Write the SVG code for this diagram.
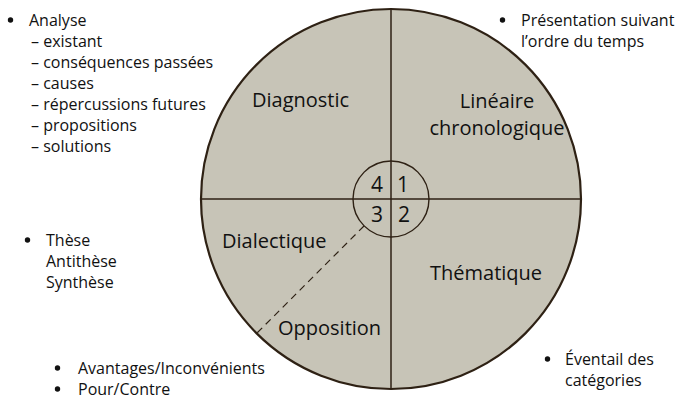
<svg xmlns="http://www.w3.org/2000/svg" width="683" height="400" viewBox="0 0 683 400">
<style>
text{font-family:"Open Sans","Noto Sans","Liberation Sans",sans-serif;fill:#111;font-weight:500}
.lbl{font-size:20px}
.num{font-size:21px;text-anchor:middle}
.note{font-size:16px}
.ln{stroke:#2e2114;fill:none}
.bul{fill:#111}
</style>
<rect width="683" height="400" fill="#fff"/>
<g id="wheel">
<circle cx="391" cy="199" r="190" fill="#c7c4b7" stroke="#2e2114" stroke-width="2.2"/>
</g>
<g id="connectors">
<line class="ln" x1="391" y1="9" x2="391" y2="389" stroke-width="1.5"/>
<line class="ln" x1="201" y1="199" x2="581" y2="199" stroke-width="1.5"/>
<circle class="ln" cx="391" cy="199" r="38" stroke-width="1.4"/>
<line class="ln" x1="364" y1="226" x2="257" y2="333" stroke-width="1.2" stroke-dasharray="7,5"/>
</g>
<g id="center">
<text class="num" x="377" y="192">4</text>
<text class="num" x="403" y="192">1</text>
<text class="num" x="377" y="222">3</text>
<text class="num" x="404" y="222">2</text>
</g>
<g id="diagnostic"><text class="lbl" x="252" y="107">Diagnostic</text></g>
<g id="lineaire">
<text class="lbl" x="497" y="108" text-anchor="middle">Linéaire</text>
<text class="lbl" x="497" y="135" text-anchor="middle">chronologique</text>
</g>
<g id="dialectique"><text class="lbl" x="222" y="248">Dialectique</text></g>
<g id="thematique"><text class="lbl" x="430" y="280">Thématique</text></g>
<g id="opposition"><text class="lbl" x="278" y="335">Opposition</text></g>
<g id="note-analyse" class="note">
<circle class="bul" cx="10.5" cy="20" r="2.7"/>
<text x="29" y="26">Analyse</text>
<text x="31" y="47">– existant</text>
<text x="31" y="68">– conséquences passées</text>
<text x="31" y="89">– causes</text>
<text x="31" y="110">– répercussions futures</text>
<text x="31" y="131">– propositions</text>
<text x="31" y="152">– solutions</text>
</g>
<g id="note-temps" class="note">
<circle class="bul" cx="502.5" cy="20" r="2.7"/>
<text x="521" y="26">Présentation suivant</text>
<text x="521" y="47">l’ordre du temps</text>
</g>
<g id="note-these" class="note">
<circle class="bul" cx="27.5" cy="240" r="2.7"/>
<text x="46" y="246">Thèse</text>
<text x="46" y="267">Antithèse</text>
<text x="46" y="288">Synthèse</text>
</g>
<g id="note-avantages" class="note">
<circle class="bul" cx="57.5" cy="368" r="2.7"/>
<text x="78" y="374">Avantages/Inconvénients</text>
<circle class="bul" cx="57.5" cy="389" r="2.7"/>
<text x="78" y="395">Pour/Contre</text>
</g>
<g id="note-categories" class="note">
<circle class="bul" cx="547.5" cy="359" r="2.7"/>
<text x="565" y="365">Éventail des</text>
<text x="565" y="386">catégories</text>
</g>
</svg>
